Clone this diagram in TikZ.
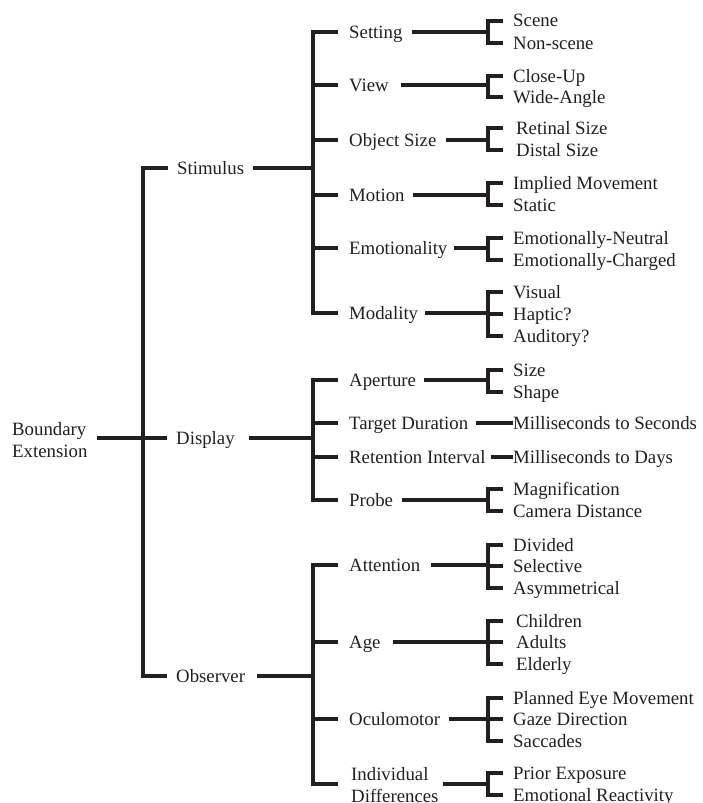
\documentclass[tikz,border=0pt]{standalone}
\usepackage{fontspec}
\setmainfont{Liberation Serif}
\definecolor{ink}{RGB}{35,31,32}
\newcommand\lf[4]{\node[lbl] (#1) at (#2,#3+6) {#4};\coordinate (#1-t) at (503,#3);}
\newcommand\ct[3]{\node[lbl] (#1) at (349,#2+6) {#3};\coordinate (#1-s) at (338,#2);\coordinate (#1-b) at (488,#2);}
\newcommand\lnk[2]{\draw[conn] (#1.base east) ++(#2,-6) -- (#1-b);}
\begin{document}
\begin{tikzpicture}[x=1pt,y=-1pt,
  lbl/.style={anchor=base west, inner sep=0pt, font=\fontsize{18.8}{22}\selectfont, text=ink},
  ml/.style={inner sep=0pt, font=\fontsize{18.8}{22}\selectfont, text=ink},
  conn/.style={draw=ink, line width=4pt, line join=miter, line cap=butt}]
\useasboundingbox (0,0) rectangle (702,803);

% level 0 and 1
\node[ml, anchor=west, align=left] (be) at (12,440.5) {Boundary\\Extension};
\node[lbl] (stim) at (177,168+6) {Stimulus};
\node[lbl] (disp) at (176,438+6) {Display};
\node[lbl] (obs) at (176,676+6) {Observer};
\coordinate (spine-s) at (168,168);
\coordinate (spine-d) at (143,438);
\coordinate (spine-o) at (167,676);
\coordinate (stim-b) at (313,168);
\coordinate (disp-b) at (313,438);
\coordinate (obs-b) at (313,676);

% level 2
\ct{set}{32}{Setting}
\ct{view}{85}{View}
\ct{osize}{140}{Object Size}
\ct{mot}{195}{Motion}
\ct{emo}{248}{Emotionality}
\ct{moda}{313}{Modality}
\ct{apert}{380}{Aperture}
\ct{tdur}{423}{Target Duration}
\ct{ret}{457}{Retention Interval}
\ct{probe}{500}{Probe}
\ct{att}{565}{Attention}
\ct{age}{642}{Age}
\ct{ocu}{719}{Oculomotor}
\node[ml, anchor=west, align=left] (indiv) at (351,785.5) {Individual\\Differences};
\coordinate (indiv-s) at (338,784);
\coordinate (indiv-b) at (488,784);

% level 3
\lf{scene}{513}{21}{Scene}
\lf{nonscene}{513}{43}{Non-scene}
\lf{close}{513}{76}{Close-Up}
\lf{wide}{513}{97}{Wide-Angle}
\lf{retinal}{516}{128}{Retinal Size}
\lf{distal}{516}{150}{Distal Size}
\lf{implied}{513}{183}{Implied Movement}
\lf{static}{513}{205}{Static}
\lf{eneutral}{513}{238}{Emotionally-Neutral}
\lf{echarged}{513}{260}{Emotionally-Charged}
\lf{visual}{513}{292}{Visual}
\lf{haptic}{513}{314}{Haptic?}
\lf{auditory}{513}{336}{Auditory?}
\lf{size}{513}{370}{Size}
\lf{shape}{513}{392}{Shape}
\lf{msec}{513}{423}{Milliseconds to Seconds}
\lf{mday}{513}{457}{Milliseconds to Days}
\lf{magn}{513}{489}{Magnification}
\lf{camera}{513}{511}{Camera Distance}
\lf{divided}{513}{545}{Divided}
\lf{selective}{513}{566}{Selective}
\lf{asym}{513}{588}{Asymmetrical}
\lf{children}{516}{621}{Children}
\lf{adults}{516}{642}{Adults}
\lf{elderly}{516}{664}{Elderly}
\lf{planned}{513}{698}{Planned Eye Movement}
\lf{gaze}{513}{719}{Gaze Direction}
\lf{sacc}{513}{741}{Saccades}
\lf{prior}{513}{773}{Prior Exposure}
\lf{ereact}{513}{795}{Emotional Reactivity}

% spine
\draw[conn] (spine-s) -- ++(-25,0) |- (spine-o);
\draw[conn] (spine-d) -- ++(24,0);
\draw[conn] (be.east |- spine-d) ++(9,0) -- (spine-d);

% level 1 -> level 2 brackets
\draw[conn] (stim.base east) ++(9,-6) -- (stim-b);
\draw[conn] (disp.base east) ++(14,-6) -- (disp-b);
\draw[conn] (obs.base east) ++(12,-6) -- (obs-b);
\draw[conn] (set-s) -- ++(-25,0) |- (moda-s);
\foreach \n in {view,osize,mot,emo} \draw[conn] (\n-s) -- ++(-25,0);
\draw[conn] (apert-s) -- ++(-25,0) |- (probe-s);
\foreach \n in {tdur,ret} \draw[conn] (\n-s) -- ++(-25,0);
\draw[conn] (att-s) -- ++(-25,0) |- (indiv-s);
\foreach \n in {age,ocu} \draw[conn] (\n-s) -- ++(-25,0);

% level 2 -> level 3
\lnk{set}{9}
\lnk{view}{12}
\lnk{osize}{9}
\lnk{mot}{8}
\lnk{emo}{6}
\lnk{moda}{7}
\lnk{apert}{8}
\lnk{probe}{9}
\lnk{att}{11}
\lnk{age}{12}
\lnk{ocu}{9}
\draw[conn] (indiv.east |- indiv-b) ++(4,0) -- (indiv-b);
\draw[conn] (tdur.base east) ++(8,-6) -- (msec.base west |- msec-t) ++(-11,0);
\draw[conn] (ret.base east) ++(5,-6) -- (mday.base west |- mday-t) ++(-11,0);

\draw[conn] (scene-t) -- ++(-15,0) |- (nonscene-t);
\draw[conn] (close-t) -- ++(-15,0) |- (wide-t);
\draw[conn] (retinal-t) -- ++(-15,0) |- (distal-t);
\draw[conn] (implied-t) -- ++(-15,0) |- (static-t);
\draw[conn] (eneutral-t) -- ++(-15,0) |- (echarged-t);
\draw[conn] (visual-t) -- ++(-15,0) |- (auditory-t);
\draw[conn] (haptic-t) -- ++(-15,0);
\draw[conn] (size-t) -- ++(-15,0) |- (shape-t);
\draw[conn] (magn-t) -- ++(-15,0) |- (camera-t);
\draw[conn] (divided-t) -- ++(-15,0) |- (asym-t);
\draw[conn] (selective-t) -- ++(-15,0);
\draw[conn] (children-t) -- ++(-15,0) |- (elderly-t);
\draw[conn] (adults-t) -- ++(-15,0);
\draw[conn] (planned-t) -- ++(-15,0) |- (sacc-t);
\draw[conn] (gaze-t) -- ++(-15,0);
\draw[conn] (prior-t) -- ++(-15,0) |- (ereact-t);
\end{tikzpicture}
\end{document}
